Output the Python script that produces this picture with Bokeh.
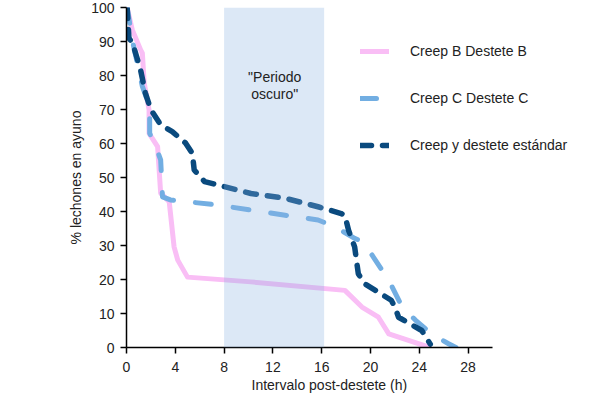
from bokeh.plotting import figure
from bokeh.models import Range1d, BoxAnnotation, Legend, LegendItem, FixedTicker, Label, Title
from bokeh.embed import file_html
from bokeh.resources import INLINE

# ---- data ----
pink_x = [0.05, 0.47, 1.15, 1.3, 1.45, 1.85, 1.85, 2.55, 2.8, 3.5, 3.9, 4.2, 5.0, 10.2, 17.9, 19.3, 20.65, 21.5, 24.8]
pink_y = [100, 93.5, 87.6, 86.6, 77.8, 69.9, 63.0, 59.1, 45.4, 42.9, 29.6, 25.7, 20.7, 19.3, 16.8, 11.9, 8.9, 4.0, 0.1]

light_x = [0.05, 0.5, 1.3, 1.9, 1.9, 2.5, 2.8, 2.95, 3.6, 7.5, 10.2, 13.0, 15.7, 17.1, 18.7, 19.4, 20.4, 21.5, 22.6, 23.7, 25.0, 26.4, 27.0]
light_y = [100, 90, 76.8, 70.8, 63.0, 58.1, 55.2, 44.3, 43.4, 41.9, 40.4, 38.9, 37.5, 35.5, 32.1, 31.1, 25.7, 19.8, 11.9, 8.0, 4.0, 1.1, 0]

dark_x = [0.05, 0.2, 0.5, 1.15, 1.55, 2.0, 2.8, 3.75, 4.85, 5.4, 5.55, 6.4, 10.2, 13.0, 15.7, 17.6, 17.9, 18.2, 18.7, 19.0, 19.5, 20.4, 21.7, 22.0, 22.3, 24.2, 24.9]
dark_y = [100, 91, 89.5, 81.7, 74.8, 69.9, 65.5, 63.5, 60.1, 57.1, 52.2, 48.8, 45.3, 43.9, 41.4, 39.4, 38.9, 34.5, 29.6, 21.7, 18.8, 16.8, 13.9, 11.9, 8.9, 5.0, 1.0]

series_names = ["Creep B Destete B", "Creep C Destete C", "Creep y destete estándar"]
x_ticks = [0, 4, 8, 12, 16, 20, 24, 28]
y_ticks = [0, 10, 20, 30, 40, 50, 60, 70, 80, 90, 100]
x_axis_bounds = (0, 30)
x_axis_title = "Intervalo post-destete (h)"
y_axis_title = "% lechones en ayuno"
dark_period = (8.0, 16.2)
dark_label_lines = ['"Periodo', 'oscuro"']
dark_label_x = 12.15
dark_label_y = [79.7, 74.7]

FONT = "Liberation Sans"
TXT = "#222222"

FRAME_W = 474           # frame extends under the legend; axis line stops at 30
AXIS_W = 366            # pixel length of the 0..30 axis in the reference
x_end = x_axis_bounds[1] * FRAME_W / AXIS_W

p = figure(width=600, height=395, output_backend="svg", toolbar_location=None,
           x_range=Range1d(0, x_end), y_range=Range1d(0, 100),
           min_border_left=126, min_border_right=0, min_border_top=7, min_border_bottom=48)
p.outline_line_color = None
p.xgrid.visible = False
p.ygrid.visible = False
p.background_fill_color = "white"
p.border_fill_color = "white"

r_pink = p.line(pink_x, pink_y, line_color="#F9BEF5", line_width=5, line_join="round", line_cap="round")
r_light = p.line(light_x, light_y, line_color="#72AEE2", line_width=5, line_join="round", line_cap="round",
                 line_dash="16 22")
r_dark = p.line(dark_x, dark_y, line_color="#0A4A7E", line_width=5.5, line_join="round", line_cap="round",
                line_dash="11 11")

shade = BoxAnnotation(left=dark_period[0], right=dark_period[1], fill_color="#8AB2E1", fill_alpha=0.3,
                      line_color=None, level="annotation")
p.add_layout(shade)

for line, yy in zip(dark_label_lines, dark_label_y):
    p.add_layout(Label(x=dark_label_x, y=yy, text=line, text_align="center", text_baseline="middle",
                       text_font=FONT, text_font_size="14px", text_color=TXT))

for ax in (p.xaxis[0], p.yaxis[0]):
    ax.axis_line_color = "black"
    ax.axis_line_width = 1.5
    ax.major_tick_line_color = "black"
    ax.major_tick_line_width = 1.5
    ax.major_tick_out = 6
    ax.major_tick_in = 0
    ax.minor_tick_line_color = None
    ax.major_label_text_font = FONT
    ax.major_label_text_font_size = "14px"
    ax.major_label_text_color = TXT
    ax.axis_label_text_font = FONT
    ax.axis_label_text_font_size = "14px"
    ax.axis_label_text_font_style = "normal"
    ax.axis_label_text_color = TXT

p.xaxis[0].ticker = FixedTicker(ticks=x_ticks)
p.yaxis[0].ticker = FixedTicker(ticks=y_ticks)
p.xaxis[0].bounds = x_axis_bounds
p.yaxis[0].axis_label = y_axis_title
p.xaxis[0].major_label_standoff = 8
p.yaxis[0].major_label_standoff = 6
p.yaxis[0].axis_label_standoff = 4

# x axis title placed under the 0..30 axis part (frame is wider because of the legend)
xt = Title(text=x_axis_title, align="left", offset=125, standoff=0,
           text_font=FONT, text_font_size="14px", text_font_style="normal", text_color=TXT)
p.add_layout(xt, "below")

legend = Legend(items=[LegendItem(label=series_names[0], renderers=[r_pink]),
                       LegendItem(label=series_names[1], renderers=[r_light]),
                       LegendItem(label=series_names[2], renderers=[r_dark])],
                location=(234, 192), orientation="vertical",
                glyph_width=29, glyph_height=20, label_height=20, spacing=27,
                label_standoff=21, padding=0, margin=0,
                border_line_color=None, background_fill_alpha=0,
                label_text_font=FONT, label_text_font_size="14px", label_text_color=TXT)
p.add_layout(legend, "center")

open("out.html", "w").write(file_html(p, INLINE))
